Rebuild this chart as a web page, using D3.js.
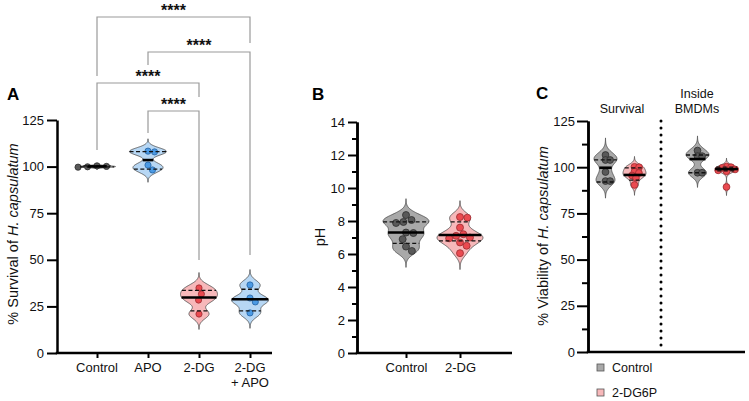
<!DOCTYPE html>
<html><head><meta charset="utf-8">
<script src="https://cdn.jsdelivr.net/npm/d3@7"></script>
<style>
body{margin:0;background:#fff}
svg{display:block;font-family:"Liberation Sans",Arial,Helvetica,sans-serif}
</style>
</head><body>
<svg id="chart" width="749" height="401"></svg>
<script>
// ---------------- DATA ----------------
// Panel A
const aGroups = ["Control", "APO", "2-DG", "2-DG + APO"];
const aColors = ["gray", "blue", "pink", "blue"];
const aControl = [99.7, 100.4, 100.1, 99.9];
const aAPO = [108.3, 107.9, 100.8, 98.2];
const a2DG = [34.9, 31.6, 28.4, 20.9];
const a2DGAPO = [36.5, 29.5, 27.4, 21.5];
const aMedian = [100.1, 103.5, 29.8, 28.8];
const aQ1 = [99.8, 98.6, 22.6, 22.6];
const aQ3 = [100.4, 108.0, 33.6, 34.2];
const aBandwidth = [0.4, 2.0, 2.5, 2.5];
const aTicks = [0, 25, 50, 75, 100, 125];
const aComparisons = [["Control", "2-DG + APO"], ["APO", "2-DG + APO"], ["Control", "2-DG"], ["APO", "2-DG"]];
const aSignif = ["****", "****", "****", "****"];

// Panel B
const bGroups = ["Control", "2-DG"];
const bColors = ["gray", "pink"];
const bControl = [8.36, 8.06, 7.94, 7.88, 7.3, 7.27, 6.9, 6.45, 6.18];
const b2DG = [8.24, 8.2, 7.6, 7.2, 7.1, 7.0, 6.95, 6.7, 6.5, 6.05];
const bMedian = [7.3, 7.15];
const bQ1 = [6.65, 6.8];
const bQ3 = [7.95, 7.95];
const bBandwidth = [0.3, 0.3];
const bTicks = [0, 2, 4, 6, 8, 10, 12, 14];
const bMinorTicks = [1, 3, 5, 7, 9, 11, 13];

// Panel C
const cGroups = ["Survival", "Inside BMDMs"];
const cSeries = ["Control", "2-DG6P"];
const cColors = ["gray", "pink"];
const cSurvivalControl = [106.6, 103.9, 103.9, 97.4, 92.5, 92.5];
const cSurvival2DG6P = [100.2, 100.0, 97.6, 96.9, 95.5, 94.2, 90.4];
const cBMDMControl = [109, 106, 106, 97, 97];
const cBMDM2DG6P = [100.3, 100.0, 99.6, 98.8, 98.3, 97.8, 89.3];
const cMedian = [[99.7, 95.8], [104.4, 99.0]];
const cQ1 = [[92.0, 93.0], [97.0, 98.0]];
const cQ3 = [[104.0, 99.6], [106.6, 100.0]];
const cBandwidth = [[2.8, 1.7], [2.4, 1.4]];
const cTicks = [0, 25, 50, 75, 100, 125];
const cMinorTicks = [12.5, 37.5, 62.5, 87.5, 112.5];

// ---------------- STYLE ----------------
const palette = {
  gray: {fill: "#a9a9a9", pt: "#595959", ptStroke: "#2e2e2e"},
  pink: {fill: "#f7b8ba", pt: "#ea4a50", ptStroke: "#9c2a2e"},
  blue: {fill: "#b7d7f4", pt: "#4b9ae4", ptStroke: "#2663a3"}
};
const svg = d3.select("#chart");

function density(values, h, v) {
  let s = 0;
  for (const x of values) { const z = (v - x) / h; s += Math.exp(-0.5 * z * z); }
  return s;
}

function beeswarm(ys, d) {
  const order = ys.map((y, i) => i).sort((a, b) => ys[a] - ys[b]);
  const placed = [], xs = new Array(ys.length);
  for (const i of order) {
    const y = ys[i];
    const near = placed.filter(p => Math.abs(p.y - y) < d);
    const cands = [0];
    for (const p of near) {
      const dx = Math.sqrt(d * d - (p.y - y) ** 2);
      cands.push(p.x + dx, p.x - dx);
    }
    cands.sort((a, b) => Math.abs(a) - Math.abs(b) || b - a);
    let x = 0;
    for (const c of cands) {
      if (near.every(p => (p.x - c) ** 2 + (p.y - y) ** 2 >= d * d - 0.01)) { x = c; break; }
    }
    placed.push({x, y}); xs[i] = x;
  }
  return xs;
}

function drawViolin(g, o) {
  const col = palette[o.color];
  const lo = d3.min(o.values) - 3.3 * o.h, hi = d3.max(o.values) + 3.3 * o.h;
  const grid = d3.range(0, 121).map(i => lo + (hi - lo) * i / 120);
  const dens = grid.map(v => [v, density(o.values, o.h, v)]);
  const maxD = d3.max(dens, d => d[1]);
  const w = v => o.halfW * density(o.values, o.h, v) / maxD;
  const area = d3.area()
    .y(d => o.y(d[0]))
    .x0(d => o.xc - o.halfW * d[1] / maxD)
    .x1(d => o.xc + o.halfW * d[1] / maxD)
    .curve(d3.curveBasis);
  g.append("path").datum(dens).attr("d", area)
    .attr("fill", col.fill).attr("stroke", "#4a4a4a").attr("stroke-width", 0.8);
  const ys = o.values.map(v => o.y(v));
  const xs = beeswarm(ys, o.spacing);
  g.selectAll(null).data(o.values).join("circle")
    .attr("cx", (d, i) => o.xc + xs[i]).attr("cy", d => o.y(d)).attr("r", o.r)
    .attr("fill", col.pt).attr("stroke", col.ptStroke).attr("stroke-width", 0.8);
  [o.q1, o.q3].forEach(q => {
    g.append("line").attr("x1", o.xc - w(q)).attr("x2", o.xc + w(q))
      .attr("y1", o.y(q)).attr("y2", o.y(q))
      .attr("stroke", "#111").attr("stroke-width", 1.3).attr("stroke-dasharray", "4,2.5");
  });
  const mw = Math.min(w(o.med), o.medMax || 1e9);
  g.append("line").attr("x1", o.xc - mw).attr("x2", o.xc + mw)
    .attr("y1", o.y(o.med)).attr("y2", o.y(o.med))
    .attr("stroke", "#000").attr("stroke-width", 2.6);
}

function styleAxis(sel) {
  sel.select(".domain").attr("stroke", "#000").attr("stroke-width", 2.5);
  sel.selectAll(".tick line").attr("stroke", "#000").attr("stroke-width", 2);
  sel.selectAll(".tick text").attr("font-size", 13).attr("fill", "#111")
    .attr("font-family", "'Liberation Sans', Arial, sans-serif");
}

function panelLetter(x, y, t) {
  svg.append("text").attr("x", x).attr("y", y).text(t)
    .attr("font-size", 17).attr("font-weight", "bold").attr("fill", "#000");
}

// ---------------- PANEL A ----------------
const yA = d3.scaleLinear().domain([0, 125]).range([353, 120]);
const xA = d3.scalePoint().domain(aGroups).range([97, 250]);
const gA = svg.append("g");
const aData = [aControl, aAPO, a2DG, a2DGAPO];

panelLetter(7, 100, "A");
const axA = gA.append("g").attr("transform", "translate(57,0)")
  .call(d3.axisLeft(yA).tickValues(aTicks).tickSize(10).tickPadding(3).tickSizeOuter(0));
styleAxis(axA);
gA.append("line").attr("x1", 55.75).attr("x2", 272).attr("y1", 353).attr("y2", 353)
  .attr("stroke", "#000").attr("stroke-width", 2.5);
const axAx = gA.append("g").attr("transform", "translate(0,353)")
  .call(d3.axisBottom(xA).tickSize(5).tickPadding(5));
axAx.select(".domain").remove();
axAx.selectAll(".tick line").attr("stroke", "#000").attr("stroke-width", 2);
axAx.selectAll(".tick text").remove();
aGroups.forEach(gname => {
  const parts = gname.startsWith("2-DG + ") ? ["2-DG", "+ APO"] : [gname];
  const t = gA.append("text").attr("x", xA(gname)).attr("y", 372)
    .attr("text-anchor", "middle").attr("font-size", 13).attr("fill", "#111");
  parts.forEach((p, i) => t.append("tspan").attr("x", xA(gname)).attr("dy", i === 0 ? 0 : 15).text(p));
});
gA.append("text").attr("transform", "translate(18,234) rotate(-90)")
  .attr("text-anchor", "middle").attr("font-size", 14.5).attr("fill", "#111")
  .call(t => { t.append("tspan").text("% Survival of "); t.append("tspan").attr("font-style", "italic").text("H. capsulatum"); });

aGroups.forEach((gname, i) => {
  drawViolin(gA, {xc: xA(gname), y: yA, values: aData[i], h: aBandwidth[i], halfW: 18.5,
    color: aColors[i], med: aMedian[i], q1: aQ1[i], q3: aQ3[i], r: 3.1,
    spacing: i === 0 ? 9.5 : 6.6, medMax: i === 0 ? 9.5 : null});
});

// brackets (layout: line level, left leg end, right leg end in px)
const bracketLayout = [[17, 76, 43], [52, 65, 255], [83, 150, 97], [111, 133, 260]];
aComparisons.forEach((c, i) => {
  const [lv, l1, l2] = bracketLayout[i];
  const x1 = xA(c[0]), x2 = xA(c[1]);
  gA.append("path").attr("d", `M${x1},${l1}V${lv}H${x2}V${l2}`)
    .attr("fill", "none").attr("stroke", "#9a9a9a").attr("stroke-width", 1.2);
  gA.append("text").attr("x", (x1 + x2) / 2).attr("y", lv - 1).attr("text-anchor", "middle")
    .attr("font-size", 16).attr("font-weight", "bold").attr("fill", "#111").text(aSignif[i]);
});

// ---------------- PANEL B ----------------
const yB = d3.scaleLinear().domain([0, 14]).range([353, 122]);
const xB = d3.scalePoint().domain(bGroups).range([406, 460]);
const gB = svg.append("g");
const bData = [bControl, b2DG];
panelLetter(312, 100, "B");
const axBminor = gB.append("g").attr("transform", "translate(357,0)")
  .call(d3.axisLeft(yB).tickValues(bMinorTicks).tickSize(5).tickFormat("").tickSizeOuter(0));
styleAxis(axBminor);
const axB = gB.append("g").attr("transform", "translate(357,0)")
  .call(d3.axisLeft(yB).tickValues(bTicks).tickSize(9).tickPadding(3).tickSizeOuter(0));
styleAxis(axB);
gB.append("line").attr("x1", 355.75).attr("x2", 512).attr("y1", 353).attr("y2", 353)
  .attr("stroke", "#000").attr("stroke-width", 2.5);
const axBx = gB.append("g").attr("transform", "translate(0,353)")
  .call(d3.axisBottom(xB).tickSize(5).tickPadding(5));
axBx.select(".domain").remove();
axBx.selectAll(".tick line").attr("stroke", "#000").attr("stroke-width", 2);
axBx.selectAll(".tick text").attr("font-size", 13).attr("fill", "#111")
  .attr("font-family", "'Liberation Sans', Arial, sans-serif");
gB.append("text").attr("transform", "translate(325,237) rotate(-90)")
  .attr("text-anchor", "middle").attr("font-size", 14.5).attr("fill", "#111").text("pH");
bGroups.forEach((gname, i) => {
  drawViolin(gB, {xc: xB(gname), y: yB, values: bData[i], h: bBandwidth[i], halfW: 23,
    color: bColors[i], med: bMedian[i], q1: bQ1[i], q3: bQ3[i], r: 3.5, spacing: 7.4});
});

// ---------------- PANEL C ----------------
const yC = d3.scaleLinear().domain([0, 125]).range([352, 121]);
const xCG = d3.scalePoint().domain(cGroups).range([620, 712]);
const xCS = d3.scalePoint().domain(cSeries).range([-14.5, 14.5]);
const gC = svg.append("g");
const cData = [[cSurvivalControl, cSurvival2DG6P], [cBMDMControl, cBMDM2DG6P]];
panelLetter(536, 99, "C");
const axCminor = gC.append("g").attr("transform", "translate(588,0)")
  .call(d3.axisLeft(yC).tickValues(cMinorTicks).tickSize(6).tickFormat("").tickSizeOuter(0));
styleAxis(axCminor);
const axC = gC.append("g").attr("transform", "translate(588,0)")
  .call(d3.axisLeft(yC).tickValues(cTicks).tickSize(11).tickPadding(2).tickSizeOuter(0));
styleAxis(axC);
gC.append("line").attr("x1", 586.75).attr("x2", 745).attr("y1", 352).attr("y2", 352)
  .attr("stroke", "#000").attr("stroke-width", 2.5);
gC.append("text").attr("transform", "translate(548,236) rotate(-90)")
  .attr("text-anchor", "middle").attr("font-size", 14.5).attr("fill", "#111")
  .call(t => { t.append("tspan").text("% Viability of "); t.append("tspan").attr("font-style", "italic").text("H. capsulatum"); });
// divider
gC.append("line").attr("x1", 661).attr("x2", 661).attr("y1", yC(125)).attr("y2", yC(0))
  .attr("stroke", "#000").attr("stroke-width", 3).attr("stroke-linecap", "round")
  .attr("stroke-dasharray", "0,7");
// group labels
const cLabelX = [622, 697];
gC.append("text").attr("x", cLabelX[0]).attr("y", 113).attr("text-anchor", "middle")
  .attr("font-size", 12.5).attr("fill", "#111").text(cGroups[0]);
gC.append("text").attr("x", cLabelX[1]).attr("y", 98).attr("text-anchor", "middle")
  .attr("font-size", 12.5).attr("fill", "#111")
  .call(t => {
    const parts = cGroups[1].split(" ");
    t.append("tspan").attr("x", cLabelX[1]).text(parts[0]);
    t.append("tspan").attr("x", cLabelX[1]).attr("dy", 15).text(parts[1]);
  });
cGroups.forEach((gname, gi) => {
  cSeries.forEach((s, si) => {
    drawViolin(gC, {xc: xCG(gname) + xCS(s), y: yC, values: cData[gi][si], h: cBandwidth[gi][si],
      halfW: 11.5, color: cColors[si], med: cMedian[gi][si], q1: cQ1[gi][si], q3: cQ3[gi][si],
      r: 3.4, spacing: 4.6});
  });
});
// legend
cSeries.forEach((s, i) => {
  const y0 = 364 + i * 25;
  gC.append("rect").attr("x", 597).attr("y", y0).attr("width", 7).attr("height", 7)
    .attr("fill", palette[cColors[i]].fill).attr("stroke", "#555").attr("stroke-width", 0.8);
  gC.append("text").attr("x", 612).attr("y", y0 + 8).attr("font-size", 12.5).attr("fill", "#111").text(s);
});
</script>
</body></html>
